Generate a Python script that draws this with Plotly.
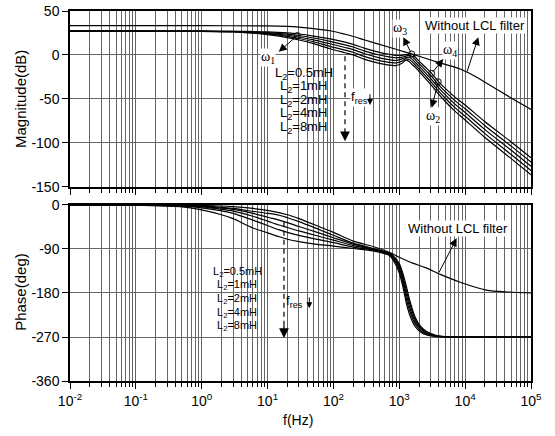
import math
import plotly.graph_objects as go

# ---------------- magnitude data (dB) ----------------
freq_mag = [0.01, 0.1, 1, 3, 5, 10, 20, 30, 50, 89, 150, 200, 300, 500, 700, 900,
            1100, 1250, 1400, 1550, 1800, 2000, 2500, 3100, 3900, 5000, 7000,
            10000, 20000, 50000, 100000]
mag_L05 = [27, 27, 27, 26.9, 26.7, 26.2, 25.0, 23.8, 21.5, 18.3, 14.5, 12.0, 7.5, 3.0, 0.8, -0.5,
           -0.5, 0.3, 1.0, 1.0, -3.5, -7, -14, -21, -30, -38, -48,
           -57, -76, -99, -117]
mag_L1 = [27, 27, 27, 26.7, 26.3, 25.5, 23.7, 22.1, 19.3, 15.5, 11.5, 9.0, 4.4, -0.1, -2.3, -3.4,
          -2.5, -1.3, -0.5, -1.5, -6.5, -10, -17.3, -24.5, -33.5, -41.8, -52,
          -61.3, -80.5, -103.8, -121.9]
mag_L2 = [27, 27, 26.9, 26.6, 26.0, 24.7, 22.4, 20.4, 17.2, 12.7, 8.5, 6.0, 1.3, -3.3, -5.4, -6.3,
          -4.5, -3.0, -2.5, -4.5, -9.5, -13, -20.5, -28, -37, -45.5, -56,
          -65.5, -85, -108.5, -126.8]
mag_L4 = [27, 27, 26.9, 26.4, 25.6, 24.0, 21.1, 18.7, 15.0, 9.8, 5.5, 3.0, -1.9, -6.4, -8.4, -9.1,
          -7.0, -4.5, -5.0, -7.5, -12.5, -16, -23.8, -31.5, -40.5, -49.3, -60,
          -69.8, -89.5, -113.3, -131.6]
mag_L8 = [27, 27, 26.8, 26.2, 25.2, 23.2, 19.8, 17.0, 12.8, 7.0, 2.5, 0.0, -5.0, -9.5, -11.5, -12.0,
          -9.5, -6.0, -7.5, -10.5, -15, -19, -27, -35, -44, -53, -64,
          -74, -94, -118, -136.5]

freq_mag_l = [0.01, 1, 10, 20, 30, 50, 89, 150, 200, 300, 500, 1000, 1540, 2000, 3000,
              5000, 8400, 12000, 20000, 50000, 100000]
mag_l_only = [33.3, 33.3, 33.0, 32.4, 31.6, 30.0, 27.5, 23.5, 21.0, 17.0, 12.0, 5.3, 1.1, -1.5, -5.8,
              -10.8, -16.0, -21.5, -31.0, -49.0, -62.0]

# crossover points marked on the magnitude plot: w1, w2, w3, w4
omega_freq = [28.3, 3900, 1540, 3100]
omega_db = [22.1, -30.5, 1.1, -21.0]

# ---------------- phase data (deg) ----------------
freq_ph = [0.01, 0.1, 0.3, 0.6, 1, 2, 3, 6, 10, 15, 20, 30, 60, 100, 200, 400, 700, 800,
           1000, 1150, 1300, 1450, 1750, 2100, 2600, 3500, 5000, 10000, 100000]
ph_L05 = [0, 0, -0.5, -1, -2, -5, -7, -13, -17, -21, -26, -34, -50, -62, -78, -89, -98, -103,
          -120, -143, -170, -196, -230, -248, -259, -266, -269, -270, -270]
ph_L1 = [0, 0, -0.7, -1.5, -3, -6.5, -9, -17, -25, -31, -36, -44, -57, -67, -80, -90, -99, -105,
         -124, -149, -178, -203, -234, -251, -261, -267, -269.5, -270, -270]
ph_L2 = [0, 0, -1, -2, -4, -9, -12.5, -23, -33, -41, -46, -53, -64, -72, -83, -91, -100, -107,
         -128, -156, -187, -211, -239, -254, -263, -268, -269.5, -270, -270]
ph_L4 = [0, 0, -1.5, -3, -6, -12, -17, -31, -42, -51, -56, -62, -71, -77, -86, -92, -101, -109,
         -133, -163, -196, -218, -244, -257, -265, -268.5, -270, -270, -270]
ph_L8 = [0, -0.5, -2.5, -5, -10, -20, -28, -47, -57, -65, -70, -75, -81, -84, -89, -94, -103, -112,
         -139, -171, -205, -226, -249, -260, -266, -269, -270, -270, -270]

freq_ph_l = [0.01, 0.1, 1, 3, 6, 10, 20, 30, 60, 100, 200, 400, 700, 1000, 1600, 2500,
             4200, 8400, 21000, 46000, 100000]
ph_l_only = [0, 0, -1, -3.5, -7, -11, -20, -28, -44, -56, -74, -85, -97, -107, -119, -128,
             -142, -158, -174, -178, -180]

l2_labels = ["0.5mH", "1mH", "2mH", "4mH", "8mH"]
x_tick_exp = [-2, -1, 0, 1, 2, 3, 4, 5]
mag_ticks = [50, 0, -50, -100, -150]
ph_ticks = [0, -90, -180, -270, -360]

FONT = "Liberation Sans, Arial, sans-serif"
SERIF = "Liberation Serif, Times New Roman, serif"
GRID = "#666666"
lg = math.log10

fig = go.Figure()

line_style = dict(color="black", width=1.2, shape="spline", smoothing=0.8)
for ys in [mag_L05, mag_L1, mag_L2, mag_L4, mag_L8]:
    fig.add_trace(go.Scatter(x=freq_mag, y=ys, mode="lines", line=line_style,
                             xaxis="x", yaxis="y", showlegend=False, hoverinfo="skip"))
fig.add_trace(go.Scatter(x=freq_mag_l, y=mag_l_only, mode="lines", line=line_style,
                         xaxis="x", yaxis="y", showlegend=False, hoverinfo="skip"))
fig.add_trace(go.Scatter(x=omega_freq, y=omega_db, mode="markers",
                         marker=dict(symbol="circle-open", size=6, color="black",
                                     line=dict(width=1, color="black")),
                         xaxis="x", yaxis="y", showlegend=False, hoverinfo="skip"))
for ys in [ph_L05, ph_L1, ph_L2, ph_L4, ph_L8]:
    fig.add_trace(go.Scatter(x=freq_ph, y=ys, mode="lines", line=line_style,
                             xaxis="x2", yaxis="y2", showlegend=False, hoverinfo="skip"))
fig.add_trace(go.Scatter(x=freq_ph_l, y=ph_l_only, mode="lines", line=line_style,
                         xaxis="x2", yaxis="y2", showlegend=False, hoverinfo="skip"))

x_common = dict(
    type="log", range=[-2, 5], showgrid=True, gridcolor=GRID, gridwidth=1, automargin=False,
    tickmode="array", tickvals=[10 ** e for e in x_tick_exp],
    ticktext=["10<sup>%d</sup>" % e for e in x_tick_exp],
    ticks="outside", ticklen=6, tickcolor="black", tickwidth=1,
    minor=dict(dtick="D1", ticks="outside", ticklen=4, tickcolor="black",
               showgrid=True, gridcolor=GRID, gridwidth=1),
    showline=True, linecolor="black", linewidth=1.5, mirror=True,
    tickfont=dict(family=FONT, size=14, color="black"),
)
y_common = dict(
    showgrid=True, gridcolor=GRID, gridwidth=1, zeroline=False, automargin=False,
    ticks="outside", ticklen=6, tickcolor="black", tickwidth=1,
    showline=True, linecolor="black", linewidth=1.5, mirror=True,
    tickfont=dict(family=FONT, size=14, color="black"),
)

fig.update_layout(
    width=555, height=436,
    margin=dict(l=70, r=24, t=11, b=55, autoexpand=False),
    paper_bgcolor="white", plot_bgcolor="white",
    xaxis=dict(x_common, anchor="y", showticklabels=False, matches="x2"),
    yaxis=dict(y_common, domain=[0.525, 1], range=[-150, 50], tickmode="array",
               tickvals=mag_ticks, ticktext=[str(v) for v in mag_ticks]),
    xaxis2=dict(x_common, anchor="y2"),
    yaxis2=dict(y_common, domain=[0, 0.4757], range=[-360, 0], tickmode="array",
                tickvals=ph_ticks, ticktext=[str(v) for v in ph_ticks]),
)

ann = []
shapes = []


def label(text, x, y, xref="x", yref="y", size=13, family=FONT, bg="white", **kw):
    ann.append(dict(text=text, x=x, y=y, xref=xref, yref=yref, showarrow=False,
                    xanchor="center", yanchor="middle",
                    font=dict(family=family, size=size, color="black"),
                    bgcolor=bg, borderpad=0, **kw))


def arrow(x_head, y_head, x_tail, y_tail, xref="x", yref="y", size=1.6, head=2, width=1):
    ann.append(dict(text="", x=x_head, y=y_head, ax=x_tail, ay=y_tail,
                    xref=xref, yref=yref, axref=xref, ayref=yref,
                    showarrow=True, arrowhead=head, arrowsize=size, arrowwidth=width,
                    arrowcolor="black", standoff=0, startstandoff=0))


# axis titles
label("Magnitude(dB)", -0.1085, 0.762, xref="paper", yref="paper", size=15, textangle=-90, bg=None)
label("Phase(deg)", -0.106, 0.2414, xref="paper", yref="paper", size=15, textangle=-90, bg=None)
label("f(Hz)", 0.4952, -0.1054, xref="paper", yref="paper", size=14, bg=None)

# --- magnitude annotations (annotation x in log10 units, shape x in Hz) ---
label("ω<sub>1</sub>", 1.011, -2.8, family=SERIF, size=14)
arrow(1.17, 3.5, lg(omega_freq[0]), omega_db[0])
label("ω<sub>3</sub>", 3.011, 29.8, family=SERIF, size=14)
arrow(3.061, 20.2, lg(omega_freq[2]), omega_db[2])
label("ω<sub>4</sub>", 3.770, 4.9, family=SERIF, size=14)
arrow(3.668, -4.6, lg(omega_freq[3]), omega_db[3])
label("ω<sub>2</sub>", 3.516, -69.6, family=SERIF, size=14)
arrow(3.492, -60.1, lg(omega_freq[1]), omega_db[1])

label("Without LCL filter", 4.149, 33.6, size=13)
arrow(4.2, 20.2, 4.023, -20.5)

shapes.append(dict(type="rect", xref="x", yref="y", x0=10 ** 1.067, x1=10 ** 2.039,
                   y0=-90.3, y1=-11.1, fillcolor="white", line=dict(width=0), layer="below"))
mag_label_db = [-21.1, -36.4, -51.6, -66.9, -82.2]
for txt, yv in zip(l2_labels, mag_label_db):
    label("L<sub>2</sub>=" + txt, 1.553, yv, size=13, bg=None)

f_dash_mag = 10 ** 2.1755
shapes.append(dict(type="line", xref="x", yref="y", x0=f_dash_mag, x1=f_dash_mag, y0=-1.5, y1=-86,
                   line=dict(color="black", width=1.2, dash="5px,4px")))
arrow(2.1755, -98.3, 2.1755, -84.0, size=1.5, head=2, width=1.3)
label("f<sub>res</sub>", 2.39, -48.6, size=13)
arrow(2.555, -57.0, 2.555, -43.0, size=1.2)

# --- phase annotations ---
label("Without LCL filter", 3.896, -47.7, xref="x2", yref="y2", size=13)
arrow(3.871, -68.1, 3.592, -141.0, xref="x2", yref="y2")

shapes.append(dict(type="rect", xref="x2", yref="y2", x0=10 ** 0.05, x1=10 ** 1.022,
                   y0=-263.9, y1=-118.6, fillcolor="white", line=dict(width=0), layer="below"))
ph_label_deg = [-136.4, -164.2, -192.3, -220.3, -248.1]
for txt, yv in zip(l2_labels, ph_label_deg):
    label("L<sub>2</sub>=" + txt, 0.536, yv, xref="x2", yref="y2", size=11, bg=None)

f_dash_ph = 10 ** 1.249
shapes.append(dict(type="line", xref="x2", yref="y2", x0=f_dash_ph, x1=f_dash_ph, y0=-34.2, y1=-250,
                   line=dict(color="black", width=1.2, dash="5px,4px")))
arrow(1.249, -272.0, 1.249, -244.0, xref="x2", yref="y2", size=1.5, head=2, width=1.3)
label("f<sub>res</sub>", 1.416, -197.8, xref="x2", yref="y2", size=13, bg=None)
arrow(1.634, -211.0, 1.634, -186.0, xref="x2", yref="y2", size=1.2)

fig.update_layout(annotations=ann, shapes=shapes)
fig.write_html("out.html")
